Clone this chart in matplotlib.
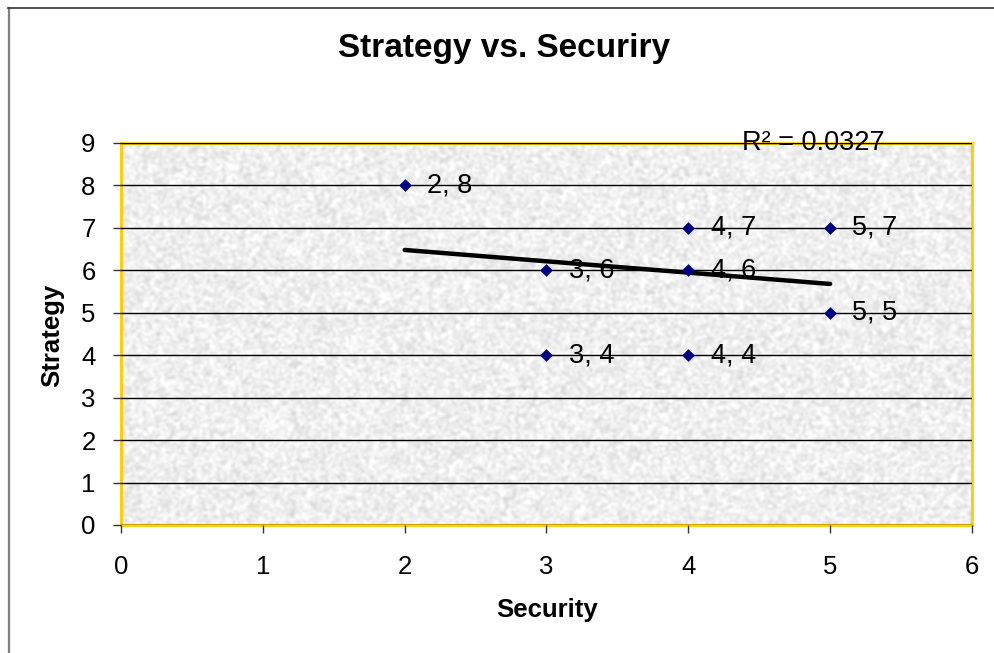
import numpy as np
import matplotlib
matplotlib.use("Agg")
import matplotlib.pyplot as plt

plt.rcParams['font.family'] = ['Liberation Sans', 'DejaVu Sans']

# Survey scores
security = [2, 3, 3, 4, 4, 4, 5, 5]
strategy = [8, 6, 4, 7, 6, 4, 7, 5]
point_labels = ["2, 8", "3, 6", "3, 4", "4, 7", "4, 6", "4, 4", "5, 7", "5, 5"]

# Linear trendline (fitted in the workbook)
trend_slope = -0.267
trend_intercept = 7.014
trend_range = [2, 5]
r_squared = 0.0327

x_ticks = [0, 1, 2, 3, 4, 5, 6]
y_ticks = [0, 1, 2, 3, 4, 5, 6, 7, 8, 9]

W, H = 995, 653
fig = plt.figure(figsize=(W / 100, H / 100), dpi=100)
fig.patch.set_facecolor('white')

# chart-area border
fig.add_artist(plt.Line2D([8.5 / W, 8.5 / W], [-0.1, 1 - 7.5 / H],
                          transform=fig.transFigure, color='#7f7f7f', lw=1.6))
fig.add_artist(plt.Line2D([8 / W, 1], [1 - 7.5 / H, 1 - 7.5 / H],
                          transform=fig.transFigure, color='#333333', lw=1.2))

left, right, top, bottom = 121, 972, 143, 525
ax = fig.add_axes([left / W, 1 - bottom / H, (right - left) / W, (bottom - top) / H])

# granite-style fill of the plot area
rng = np.random.default_rng(7)
noise = rng.random((240, 520))
k = np.array([1, 2, 1], float)
k /= k.sum()
for axis in (0, 1):
    noise = np.apply_along_axis(lambda v: np.convolve(v, k, mode='same'), axis, noise)
noise = (noise - noise.mean()) / noise.std()
tex = np.clip(0.94 + 0.03 * noise, 0.82, 1.0)
ax.imshow(np.dstack([tex, tex, tex]), extent=[0, 6, 0, 9], aspect='auto',
          interpolation='bilinear', zorder=0)

ax.set_xlim(0, 6)
ax.set_ylim(0, 9)
ax.set_xticks(x_ticks)
ax.set_yticks(y_ticks)
ax.tick_params(axis='both', direction='out', length=5.8, width=1, color='#333333',
               labelsize=18.5)
ax.tick_params(axis='y', pad=12.5)
ax.tick_params(axis='x', pad=16)
ax.yaxis.grid(True, color='black', linewidth=1)
ax.set_axisbelow(False)
for s in ax.spines.values():
    s.set_color('#FFCC00')
    s.set_linewidth(2)

# trendline
tx = np.array(trend_range, float)
ax.plot(tx, trend_slope * tx + trend_intercept, color='black', lw=3.2,
        solid_capstyle='round', zorder=3)

ax.scatter(security, strategy, marker='D', s=42, color='#000080', zorder=4,
           linewidths=0)
for x, y, lab in zip(security, strategy, point_labels):
    ax.annotate(lab, (x, y), xytext=(16, 0), textcoords='offset points',
                va='center', ha='left', fontsize=19.5, color='black', zorder=5)

fig.text(813 / W, 1 - 143 / H, f"R² = {r_squared}", ha='center', va='center',
         fontsize=19.5, color='black')

fig.text(504 / W, 1 - 57 / H, "Strategy vs. Securiry", ha='center', va='baseline',
         fontsize=24, fontweight='bold')
fig.text(547 / W, 1 - 610 / H, "Security", ha='center', va='center',
         fontsize=18.5, fontweight='bold')
fig.text(52 / W, 1 - 335 / H, "Strategy", ha='center', va='center',
         fontsize=18.5, fontweight='bold', rotation=90)

fig.savefig("out.png", dpi=100)
